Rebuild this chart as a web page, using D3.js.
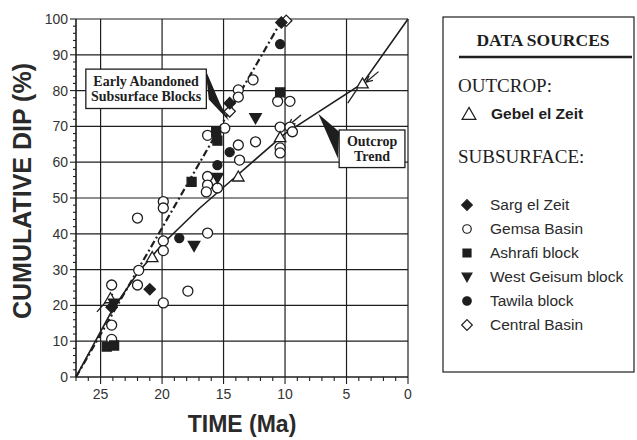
<!DOCTYPE html>
<html>
<head>
<meta charset="utf-8">
<script src="https://cdn.jsdelivr.net/npm/d3@7"></script>
<style>
  body { margin: 0; background: #fff; }
  svg { display: block; }
</style>
</head>
<body>
<svg id="chart" width="637" height="440"></svg>
<script>
// Axis ticks
const xTicks = [25, 20, 15, 10, 5, 0];
const yTicks = [0, 10, 20, 30, 40, 50, 60, 70, 80, 90, 100];

// Data points: [time (Ma), cumulative dip (%)]
const gebelElZeit = [[3.7, 82], [10.4, 67], [13.8, 56], [20.8, 33.5], [24.2, 22]];
const sargElZeit = [[10.3, 99], [14.5, 76.5], [21.0, 24.5], [24.1, 19.5]];
const gemsaBasin = [
  [24.1, 25.7], [22.0, 25.7], [21.9, 29.8], [19.9, 20.7], [17.9, 24],
  [24.1, 14.5], [24.1, 10.5], [19.9, 49], [19.9, 47.2], [22.0, 44.4],
  [16.3, 40.2], [19.9, 38], [19.9, 35.3], [16.3, 56], [16.3, 53.6],
  [15.5, 52.8], [16.4, 51.7], [14.9, 69.5], [16.3, 67.5], [12.4, 65.7],
  [13.8, 64.8], [13.7, 60.6], [10.4, 69.8], [9.6, 69.8], [10.4, 64],
  [10.4, 62.6], [13.8, 80.2], [13.8, 78.2], [12.6, 83], [10.6, 77],
  [9.6, 77], [9.4, 68.5]
];
const ashrafiBlock = [[24.5, 8.5], [23.9, 8.8], [17.6, 54.5], [15.6, 68.5], [15.5, 66], [10.4, 79.5]];
const westGeisumBlock = [[23.9, 20.5], [17.4, 36.6], [12.4, 72.3], [15.5, 55.6]];
const tawilaBlock = [[18.6, 38.8], [14.5, 62.8], [15.5, 59.2], [10.4, 93]];
const centralBasin = [[14.5, 74.2], [9.9, 99.5]];

// Trend lines
const outcropTrend = [[27, 0], [24, 19], [22, 29], [20, 37], [17, 47], [14, 56], [10, 68], [3.7, 82], [0, 100]];
const abandonedTrend = [[27, 0], [10.2, 100]];

const ink = "#1e1e1e";
const svg = d3.select("#chart");

const x = d3.scaleLinear().domain([27, 0]).range([76, 408]);
const y = d3.scaleLinear().domain([0, 100]).range([377, 19]);

// Grid
const grid = svg.append("g").attr("stroke", ink).attr("stroke-width", 1.2);
grid.selectAll("line.v").data(xTicks).join("line")
  .attr("x1", d => x(d)).attr("x2", d => x(d))
  .attr("y1", y(0)).attr("y2", y(100));
grid.selectAll("line.h").data(yTicks.filter(d => d > 0)).join("line")
  .attr("x1", x(27)).attr("x2", x(0))
  .attr("y1", d => y(d)).attr("y2", d => y(d));

// Trend lines
const line = d3.line().x(d => x(d[0])).y(d => y(d[1]));
svg.append("path").datum(outcropTrend).attr("d", line)
  .attr("fill", "none").attr("stroke", ink).attr("stroke-width", 1.6);
svg.append("path").datum(abandonedTrend).attr("d", line)
  .attr("fill", "none").attr("stroke", ink).attr("stroke-width", 2.2)
  .attr("stroke-dasharray", "7,3,2,3");

// Small range marks and arrows along the outcrop trend
const marks = [
  [[4.9, 76.5], [4.1, 80.6]],
  [[25.3, 18.2], [24.0, 23.2]]
];
svg.selectAll("path.mark").data(marks).join("path")
  .attr("d", line).attr("fill", "none").attr("stroke", ink).attr("stroke-width", 1.3);
const arrows = [
  [[2.4, 85.3], [3.4, 82.4]],
  [[8.7, 73.2], [9.7, 70.3]]
];
arrows.forEach(a => {
  const p0 = [x(a[0][0]), y(a[0][1])], p1 = [x(a[1][0]), y(a[1][1])];
  const ang = Math.atan2(p1[1] - p0[1], p1[0] - p0[0]);
  svg.append("line").attr("x1", p0[0]).attr("y1", p0[1]).attr("x2", p1[0]).attr("y2", p1[1])
    .attr("stroke", ink).attr("stroke-width", 1.3);
  const L = 7, W = 0.45;
  const h1 = [p1[0] - L * Math.cos(ang - W), p1[1] - L * Math.sin(ang - W)];
  const h2 = [p1[0] - L * Math.cos(ang + W), p1[1] - L * Math.sin(ang + W)];
  svg.append("path").attr("d", `M${h1}L${p1}L${h2}`).attr("fill", "none")
    .attr("stroke", ink).attr("stroke-width", 1.3);
});

// Marker shapes
function shape(type, s) {
  const h = s / 2;
  switch (type) {
    case "diamond": return `M0,${-h * 1.25}L${h * 1.25},0L0,${h * 1.25}L${-h * 1.25},0Z`;
    case "square": return `M${-h},${-h}H${h}V${h}H${-h}Z`;
    case "triUp": return `M0,${-h * 1.1}L${h * 1.15},${h * 0.9}L${-h * 1.15},${h * 0.9}Z`;
    case "triDown": return `M0,${h * 1.1}L${h * 1.15},${-h * 0.9}L${-h * 1.15},${-h * 0.9}Z`;
    default: return `M${h},0A${h},${h} 0 1,1 ${-h},0A${h},${h} 0 1,1 ${h},0Z`;
  }
}

const series = [
  { name: "Gemsa Basin", data: gemsaBasin, type: "circle", fill: "#fff", size: 10 },
  { name: "Central Basin", data: centralBasin, type: "diamond", fill: "#fff", size: 9 },
  { name: "Gebel el Zeit", data: gebelElZeit, type: "triUp", fill: "#fff", size: 10 },
  { name: "Sarg el Zeit", data: sargElZeit, type: "diamond", fill: ink, size: 9 },
  { name: "Ashrafi block", data: ashrafiBlock, type: "square", fill: ink, size: 9 },
  { name: "West Geisum block", data: westGeisumBlock, type: "triDown", fill: ink, size: 10 },
  { name: "Tawila block", data: tawilaBlock, type: "circle", fill: ink, size: 9 }
];
series.forEach(s => {
  svg.append("g").selectAll("path").data(s.data).join("path")
    .attr("transform", d => `translate(${x(d[0])},${y(d[1])})`)
    .attr("d", shape(s.type, s.size))
    .attr("fill", s.fill).attr("stroke", ink).attr("stroke-width", 1.3);
});

// Callouts
function callout(box, lines, wedge) {
  const g = svg.append("g");
  g.append("path").attr("d", "M" + wedge.map(p => [x(p[0]), y(p[1])]).join("L") + "Z").attr("fill", ink);
  const bx = x(box[0]), by = y(box[1]), bw = x(box[2]) - bx, bh = y(box[3]) - by;
  g.append("rect").attr("x", bx).attr("y", by).attr("width", bw).attr("height", bh)
    .attr("fill", "#fff").attr("stroke", ink).attr("stroke-width", 1.3);
  g.selectAll("text").data(lines).join("text")
    .attr("x", bx + bw / 2).attr("y", (d, i) => by + bh / 2 - (lines.length - 1) * 7.5 + i * 15 + 5)
    .attr("text-anchor", "middle")
    .attr("font-family", "Liberation Serif, Times New Roman, serif")
    .attr("font-weight", "bold").attr("font-size", 14).attr("fill", ink)
    .text(d => d);
}
callout([26.2, 86, 16.4, 75], ["Early Abandoned", "Subsurface Blocks"],
  [[16.45, 85.7], [15.3, 76.5], [14.55, 71.5], [16.2, 77.5]]);
callout([5.6, 69, 0.25, 58.5], ["Outcrop", "Trend"],
  [[7.3, 73.5], [5.6, 68.5], [5.7, 61]]);

// Axes frame lines
svg.append("line").attr("x1", x(27)).attr("x2", x(0)).attr("y1", y(0)).attr("y2", y(0))
  .attr("stroke", ink).attr("stroke-width", 1.6);
svg.append("line").attr("x1", x(27)).attr("x2", x(27)).attr("y1", y(0)).attr("y2", y(100))
  .attr("stroke", ink).attr("stroke-width", 1.6);

// Y axis ticks
const yAxis = svg.append("g").attr("stroke", ink).attr("stroke-width", 1.1);
yAxis.selectAll("line.minor").data(d3.range(0, 101, 2)).join("line")
  .attr("x1", x(27)).attr("x2", d => x(27) - (d % 10 === 0 ? 6 : 3))
  .attr("y1", d => y(d)).attr("y2", d => y(d));
svg.append("g").selectAll("text").data(yTicks).join("text")
  .attr("x", x(27) - 8).attr("y", d => y(d) + 5)
  .attr("text-anchor", "end")
  .attr("font-family", "Liberation Sans, Arial, sans-serif").attr("font-size", 14)
  .attr("fill", "#333").text(d => d);

// X axis ticks
const xAxis = svg.append("g").attr("stroke", ink).attr("stroke-width", 1.1);
xAxis.selectAll("line").data(d3.range(0, 28, 1)).join("line")
  .attr("x1", d => x(d)).attr("x2", d => x(d))
  .attr("y1", y(0)).attr("y2", d => y(0) + (d % 5 === 0 ? 7 : 4));
svg.append("g").selectAll("text").data(xTicks).join("text")
  .attr("x", d => x(d)).attr("y", y(0) + 22)
  .attr("text-anchor", "middle")
  .attr("font-family", "Liberation Sans, Arial, sans-serif").attr("font-size", 14)
  .attr("fill", "#333").text(d => d);

// Axis titles
svg.append("text").attr("x", 242).attr("y", 432).attr("text-anchor", "middle")
  .attr("font-family", "Liberation Sans, Arial, sans-serif").attr("font-weight", "bold")
  .attr("font-size", 23).attr("fill", "#2a2a2a").text("TIME (Ma)");
svg.append("text").attr("transform", "translate(31,191) rotate(-90)").attr("text-anchor", "middle")
  .attr("font-family", "Liberation Sans, Arial, sans-serif").attr("font-weight", "bold")
  .attr("font-size", 25).attr("fill", "#2a2a2a").text("CUMULATIVE DIP (%)");

// Legend
const lg = svg.append("g");
lg.append("rect").attr("x", 443).attr("y", 17).attr("width", 191).attr("height", 355)
  .attr("fill", "#fff").attr("stroke", ink).attr("stroke-width", 1.2);
lg.append("text").attr("x", 543).attr("y", 46).attr("text-anchor", "middle")
  .attr("font-family", "Liberation Serif, Times New Roman, serif").attr("font-weight", "bold")
  .attr("font-size", 17.5).attr("fill", ink).text("DATA SOURCES");
lg.append("line").attr("x1", 459).attr("x2", 632).attr("y1", 57).attr("y2", 57)
  .attr("stroke", ink).attr("stroke-width", 2.4);
lg.append("text").attr("x", 458).attr("y", 92)
  .attr("font-family", "Liberation Serif, Times New Roman, serif")
  .attr("font-size", 19).attr("fill", ink).text("OUTCROP:");
lg.append("text").attr("x", 458).attr("y", 163)
  .attr("font-family", "Liberation Serif, Times New Roman, serif")
  .attr("font-size", 19).attr("fill", ink).text("SUBSURFACE:");

const outcropItems = [{ name: "Gebel el Zeit", type: "triUp", fill: "#fff" }];
const subItems = [
  { name: "Sarg el Zeit", type: "diamond", fill: ink },
  { name: "Gemsa Basin", type: "circle", fill: "#fff" },
  { name: "Ashrafi block", type: "square", fill: ink },
  { name: "West Geisum block", type: "triDown", fill: ink },
  { name: "Tawila block", type: "circle", fill: ink },
  { name: "Central Basin", type: "diamond", fill: "#fff" }
];
lg.append("path").attr("transform", "translate(469,114)").attr("d", shape("triUp", 12))
  .attr("fill", "#fff").attr("stroke", ink).attr("stroke-width", 1.2);
lg.append("text").attr("x", 491).attr("y", 119)
  .attr("font-family", "Liberation Sans, Arial, sans-serif").attr("font-weight", "bold")
  .attr("font-size", 15.5).attr("fill", ink).text(outcropItems[0].name);

const itemY = d3.scaleLinear().domain([0, 5]).range([205, 325]);
subItems.forEach((it, i) => {
  lg.append("path").attr("transform", `translate(467,${itemY(i)})`)
    .attr("d", shape(it.type, it.type === "square" ? 8 : 8.5))
    .attr("fill", it.fill).attr("stroke", ink).attr("stroke-width", 1.2);
  lg.append("text").attr("x", 490).attr("y", itemY(i) + 5)
    .attr("font-family", "Liberation Sans, Arial, sans-serif")
    .attr("font-size", 15.5).attr("fill", "#2a2a2a").text(it.name);
});
</script>
</body>
</html>
